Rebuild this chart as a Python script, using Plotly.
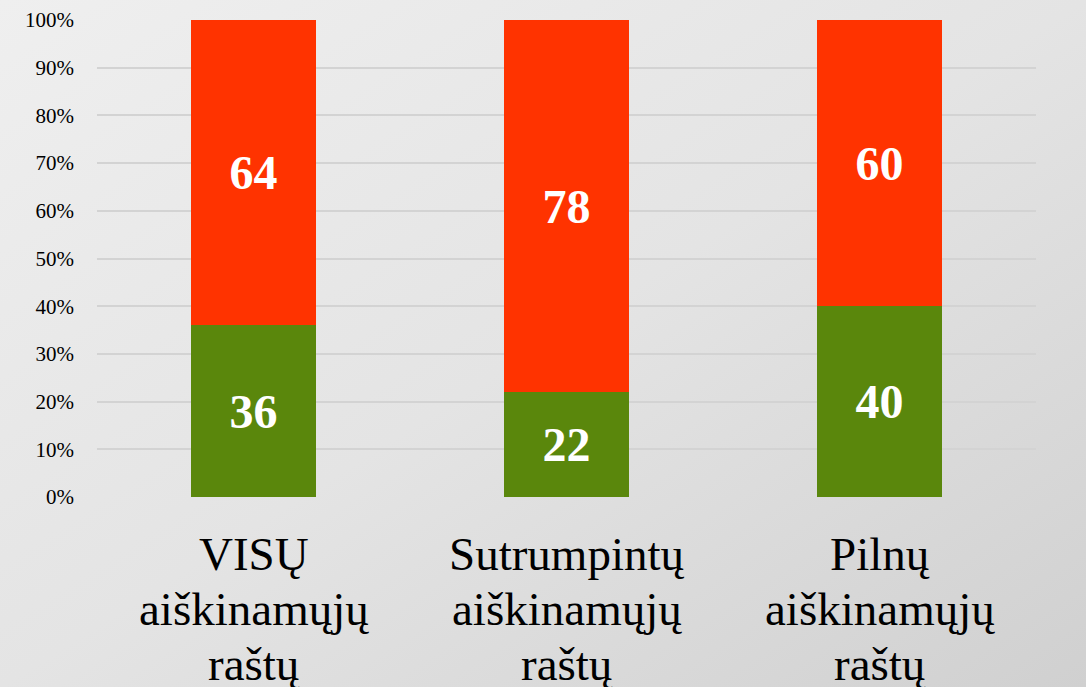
import base64
import plotly.graph_objects as go

categories = ["VISŲ<br>aiškinamųjų<br>raštų", "Sutrumpintų<br>aiškinamųjų<br>raštų", "Pilnų<br>aiškinamųjų<br>raštų"]
green_vals = [36, 22, 40]
red_vals = [64, 78, 60]
tick_vals = [0, 10, 20, 30, 40, 50, 60, 70, 80, 90, 100]
tick_text = [f"{v}%" for v in tick_vals]

W, H = 1086, 687
ML, MR, MT, MB = 97, 50, 20, 190
pw, ph = W - ML - MR, H - MT - MB

svg = ('<svg xmlns="http://www.w3.org/2000/svg" width="1086" height="687">'
       '<defs><linearGradient id="g" x1="0" y1="0" x2="1" y2="1">'
       '<stop offset="0" stop-color="#efefef"/><stop offset="0.5" stop-color="#e4e4e4"/>'
       '<stop offset="1" stop-color="#d0d0d0"/></linearGradient></defs>'
       '<rect width="1086" height="687" fill="url(#g)"/></svg>')
bg_src = "data:image/svg+xml;base64," + base64.b64encode(svg.encode()).decode()

fig = go.Figure()
label_font = dict(family="Liberation Serif", size=48, color="white")
fig.add_trace(go.Bar(x=categories, y=green_vals, marker_color="#5A870C", marker_line_width=0,
                     text=[str(v) for v in green_vals], textposition="inside", insidetextanchor="middle",
                     textfont=label_font, textangle=0, width=0.4, showlegend=False))
fig.add_trace(go.Bar(x=categories, y=red_vals, marker_color="#FF3300", marker_line_width=0,
                     text=[str(v) for v in red_vals], textposition="inside", insidetextanchor="middle",
                     textfont=label_font, textangle=0, width=0.4, showlegend=False))
fig.update_traces(texttemplate="<b>%{text}</b>")

# category labels, one annotation per line for tighter line spacing
baselines_px = [567, 622, 677]
annotations = []
for cat in categories:
    for i, line in enumerate(cat.split("<br>")):
        ypix = baselines_px[i] - 13
        annotations.append(dict(x=cat, xref="x", y=(H - MB - ypix) / ph, yref="paper",
                                text=line, showarrow=False, xanchor="center", yanchor="middle",
                                font=dict(family="Liberation Serif", size=47, color="black")))

fig.update_layout(
    barmode="stack",
    width=W, height=H,
    margin=dict(l=ML, r=MR, t=MT, b=MB, autoexpand=False),
    paper_bgcolor="#e4e4e4",
    plot_bgcolor="rgba(0,0,0,0)",
    uniformtext=dict(minsize=10, mode="show"),
    annotations=annotations,
    images=[dict(source=bg_src, xref="paper", yref="paper",
                 x=-ML / pw, y=1 + MT / ph, sizex=W / pw, sizey=H / ph,
                 xanchor="left", yanchor="top", sizing="stretch", layer="below")],
    xaxis=dict(showticklabels=False, showgrid=False, showline=False, ticks="", automargin=False),
    yaxis=dict(range=[0, 100], tickvals=tick_vals, ticktext=tick_text,
               tickfont=dict(family="Liberation Serif", size=21, color="black"),
               showgrid=True, gridcolor="#d3d3d3", gridwidth=1.5, zeroline=False,
               showline=False, ticks="", ticklabelstandoff=22, automargin=False),
)
post = ("document.documentElement.style.margin='0';document.body.style.margin='0';"
        "document.body.style.padding='0';document.body.style.overflow='hidden';"
        "document.body.style.background='#efefef';")
fig.write_html("out.html", config={"displayModeBar": False}, post_script=post)
